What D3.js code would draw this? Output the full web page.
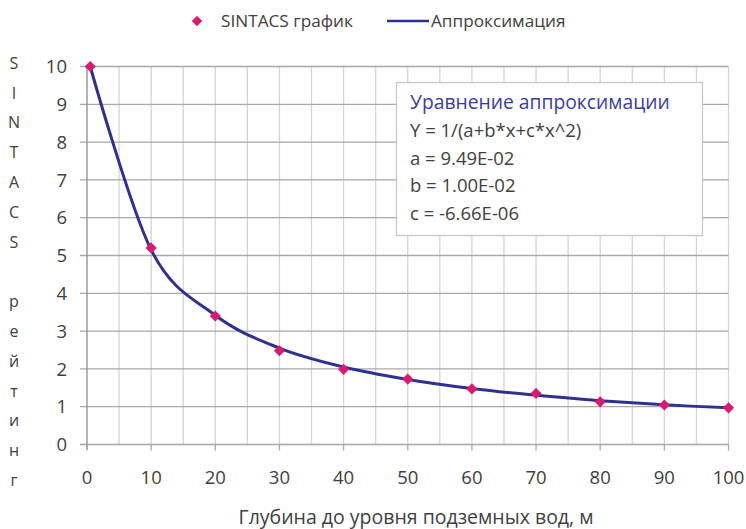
<!DOCTYPE html>
<html>
<head>
<meta charset="utf-8">
<script src="https://cdn.jsdelivr.net/npm/d3@7"></script>
<style>
  body { margin: 0; background: #fff; }
  svg { display: block; font-family: "Open Sans", "Noto Sans", sans-serif; }
</style>
</head>
<body>
<svg id="chart" width="746" height="529"></svg>
<script>
// depth values (m)
const depths = [0.5, 10, 20, 30, 40, 50, 60, 70, 80, 90, 100];
// SINTACS rating, points
const sintacs = [10, 5.2, 3.4, 2.48, 1.99, 1.73, 1.47, 1.35, 1.13, 1.045, 0.97];
// approximation line
const approx = [10, 5.15, 3.42, 2.55, 2.05, 1.72, 1.48, 1.30, 1.16, 1.05, 0.97];

const xTicks = [0, 10, 20, 30, 40, 50, 60, 70, 80, 90, 100];
const xGrid = d3.range(0, 101, 5);
const yTicks = [0, 1, 2, 3, 4, 5, 6, 7, 8, 9, 10];

const yLabel = ["S", "I", "N", "T", "A", "C", "S", "", "р", "е", "й", "т", "и", "н", "г"];
const eqLines = ["Y = 1/(a+b*x+c*x^2)", "a = 9.49E-02", "b = 1.00E-02", "c = -6.66E-06"];

const svg = d3.select("#chart");
const margin = {top: 66.5, right: 17.5, bottom: 84.5, left: 87};
const W = 746, H = 529;
const textCol = "#404040";

const x = d3.scaleLinear().domain([0, 100]).range([margin.left, W - margin.right]);
const y = d3.scaleLinear().domain([0, 10]).range([H - margin.bottom, margin.top]);

// vertical grid
svg.append("g")
  .selectAll("line")
  .data(xGrid.filter(d => d > 0))
  .join("line")
  .attr("x1", d => x(d)).attr("x2", d => x(d))
  .attr("y1", y(10)).attr("y2", y(0))
  .attr("stroke", "#d4d4d4")
  .attr("stroke-width", 1.3);

// horizontal grid + left ticks
svg.append("g")
  .selectAll("line")
  .data(yTicks)
  .join("line")
  .attr("x1", x(0) - 7).attr("x2", x(100))
  .attr("y1", d => y(d)).attr("y2", d => y(d))
  .attr("stroke", "#a8a8a8")
  .attr("stroke-width", 1.3);

// y axis line
svg.append("line")
  .attr("x1", x(0)).attr("x2", x(0))
  .attr("y1", y(10)).attr("y2", y(0) + 5)
  .attr("stroke", "#8c8c8c")
  .attr("stroke-width", 1.3);

// x tick marks below the axis
svg.append("g")
  .selectAll("line")
  .data(xTicks)
  .join("line")
  .attr("x1", d => x(d)).attr("x2", d => x(d))
  .attr("y1", y(0)).attr("y2", y(0) + 6)
  .attr("stroke", "#a8a8a8")
  .attr("stroke-width", 1.3);

// y tick labels
svg.append("g")
  .selectAll("text")
  .data(yTicks)
  .join("text")
  .attr("x", x(0) - 20)
  .attr("y", d => y(d))
  .attr("dy", "0.36em")
  .attr("text-anchor", "end")
  .attr("font-size", 18.5)
  .attr("fill", textCol)
  .text(d => d);

// x tick labels
svg.append("g")
  .selectAll("text")
  .data(xTicks)
  .join("text")
  .attr("x", d => x(d))
  .attr("y", y(0) + 39)
  .attr("text-anchor", "middle")
  .attr("font-size", 18.5)
  .attr("fill", textCol)
  .text(d => d);

// x axis title
svg.append("text")
  .attr("x", 416)
  .attr("y", 524)
  .attr("text-anchor", "middle")
  .attr("font-size", 19.5)
  .attr("fill", textCol)
  .text("Глубина до уровня подземных вод, м");

// y axis title, stacked letters
svg.append("g")
  .selectAll("text")
  .data(yLabel)
  .join("text")
  .attr("x", 14)
  .attr("y", (d, i) => 63 + i * 29.8)
  .attr("dy", "0.36em")
  .attr("text-anchor", "middle")
  .attr("font-size", 16)
  .attr("fill", textCol)
  .text(d => d);

// approximation line
const pts = depths.map((d, i) => [d, approx[i]]);
svg.append("path")
  .datum(pts)
  .attr("fill", "none")
  .attr("stroke", "#2e3192")
  .attr("stroke-width", 3)
  .attr("d", d3.line()
    .x(d => x(d[0]))
    .y(d => y(d[1]))
    .curve(d3.curveCardinal.tension(0)));

// points
const diamond = d3.symbol().type(d3.symbolDiamond2).size(80);
svg.append("g")
  .selectAll("path")
  .data(depths.map((d, i) => [d, sintacs[i]]))
  .join("path")
  .attr("d", diamond)
  .attr("transform", d => `translate(${x(d[0])},${y(d[1])})`)
  .attr("fill", "#d81b72");

// equation box
const box = svg.append("g");
box.append("rect")
  .attr("x", 396.5).attr("y", 82.5)
  .attr("width", 306).attr("height", 153)
  .attr("fill", "#fff")
  .attr("stroke", "#c8c8c8")
  .attr("stroke-width", 1.3);
box.append("text")
  .attr("x", 410).attr("y", 109)
  .attr("font-size", 19.3)
  .attr("fill", "#3b3ba6")
  .text("Уравнение аппроксимации");
box.append("g")
  .selectAll("text")
  .data(eqLines)
  .join("text")
  .attr("x", 410)
  .attr("y", (d, i) => 137 + i * 27.7)
  .attr("font-size", 18.5)
  .attr("fill", textCol)
  .text(d => d);

// legend
const lg = svg.append("g");
lg.append("path")
  .attr("d", d3.symbol().type(d3.symbolDiamond2).size(70))
  .attr("transform", "translate(197,21)")
  .attr("fill", "#d81b72");
lg.append("text")
  .attr("x", 221).attr("y", 21).attr("dy", "0.36em")
  .attr("font-size", 17.2).attr("fill", textCol)
  .text("SINTACS график");
lg.append("line")
  .attr("x1", 387).attr("x2", 429)
  .attr("y1", 21).attr("y2", 21)
  .attr("stroke", "#2e3192").attr("stroke-width", 2.5);
lg.append("text")
  .attr("x", 431).attr("y", 21).attr("dy", "0.36em")
  .attr("font-size", 17.2).attr("fill", textCol)
  .text("Аппроксимация");
</script>
</body>
</html>
